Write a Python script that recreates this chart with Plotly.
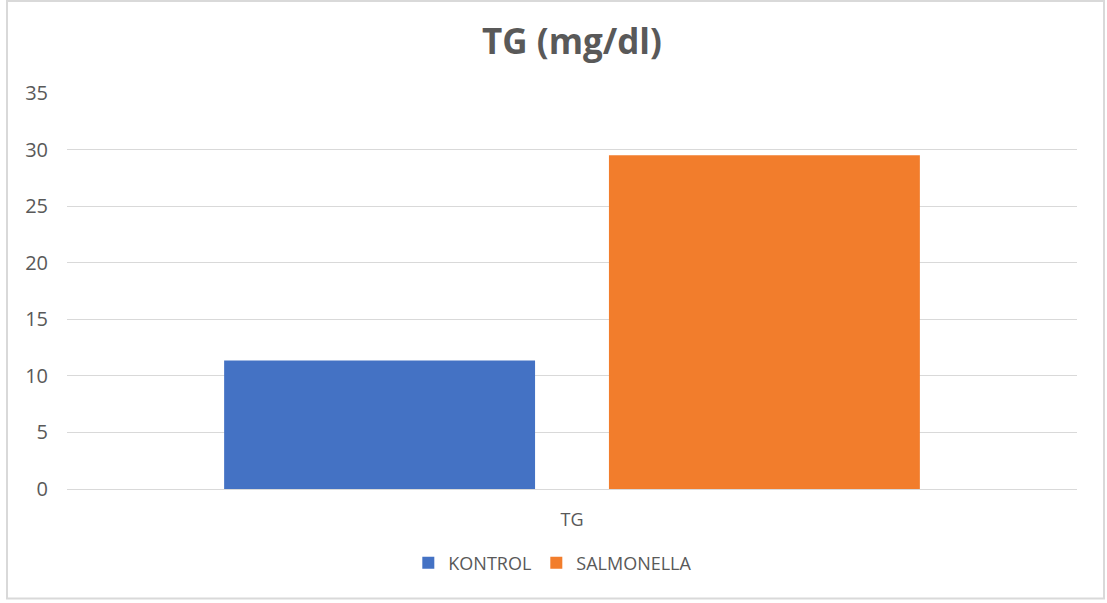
import plotly.graph_objects as go

categories = ["TG"]
series_names = ["KONTROL", "SALMONELLA"]
kontrol_values = [11.35]
salmonella_values = [29.5]
y_ticks = [0, 5, 10, 15, 20, 25, 30, 35]

colors = {"KONTROL": "#4472C4", "SALMONELLA": "#F27D2C"}

fig = go.Figure()
for name, vals in zip(series_names, [kontrol_values, salmonella_values]):
    fig.add_trace(go.Bar(
        x=categories, y=vals, name=name,
        marker=dict(color=colors[name], line=dict(width=0)),
    ))

W, H = 1107, 603
L, R, T, B = 67, 30, 93, 114
pw, ph = W - L - R, H - T - B

def px_x(x):
    return (x - L) / pw

def px_y(y):
    return (H - B - y) / ph

fig.update_layout(
    width=W, height=H,
    margin=dict(l=L, r=R, t=T, b=B),
    paper_bgcolor="white", plot_bgcolor="white",
    barmode="group", bargap=0.238, bargroupgap=0.192,
    font=dict(family="Open Sans", color="#595959"),
    title=dict(text="<b>TG (mg/dl)</b>", x=0.5, xanchor="center", xref="paper",
               y=1 - 42 / H, yanchor="middle", yref="container",
               font=dict(size=35, color="#595959", family="Open Sans")),
    xaxis=dict(showgrid=False, showline=True, linecolor="#D9D9D9", linewidth=1,
               ticks="", tickfont=dict(size=18, color="#595959"), ticklabelstandoff=14),
    yaxis=dict(range=[0, 35], tickvals=y_ticks, showgrid=True, gridcolor="#D9D9D9",
               gridwidth=1, zeroline=False, showline=False, ticks="",
               tickfont=dict(size=20, color="#595959"), ticklabelstandoff=18),
    legend=dict(orientation="h", x=0.481, xanchor="center", y=px_y(563), yanchor="middle",
                font=dict(size=18, color="#595959"), itemwidth=30, traceorder="normal"),
    showlegend=True,
)

fig.add_shape(type="rect", xref="paper", yref="paper",
              x0=px_x(7), x1=px_x(1104), y0=px_y(598.5), y1=px_y(1),
              line=dict(color="#D9D9D9", width=2), fillcolor="rgba(0,0,0,0)", layer="below")

fig.write_html("out.html",
               config={"displayModeBar": False},
               post_script="document.body.style.margin='0';document.body.style.overflow='hidden';")
